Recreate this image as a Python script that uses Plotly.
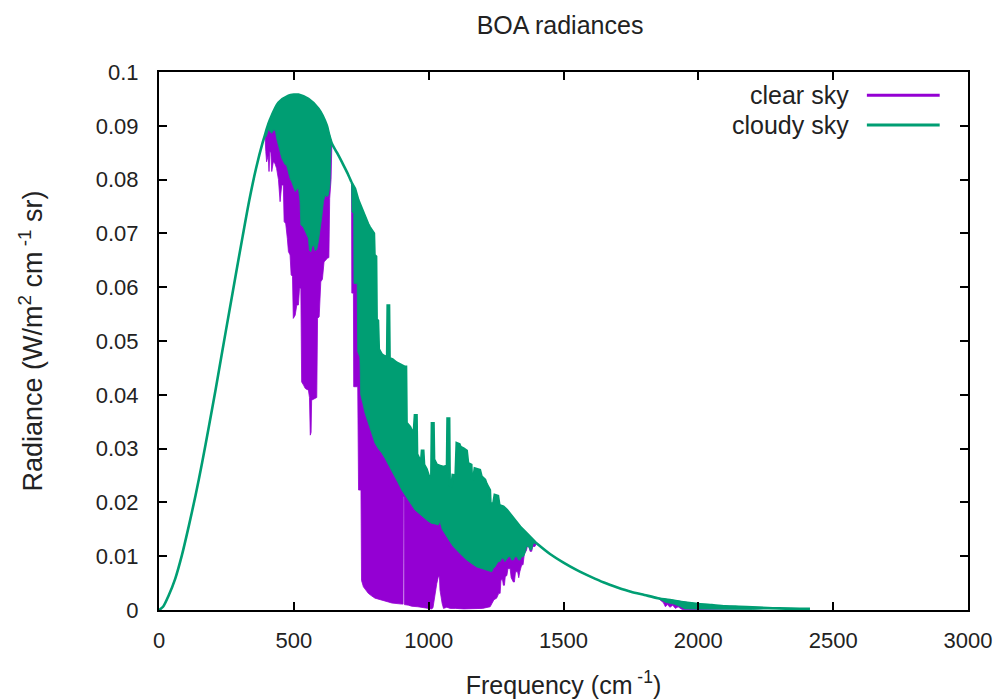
import plotly.graph_objects as go

# ---------------- data ----------------
# Cloudy-sky outer (upper) radiance curve, freq in cm^-1, radiance W/(m2 cm-1 sr)
cloudy_freq = [0, 15, 35, 60, 85, 110, 135, 160, 185, 210, 235, 260, 285, 310, 335, 360, 385,
               393, 400, 412, 443, 480, 500, 517, 554, 591, 622, 630, 641, 660, 680, 700,
               714, 727, 739, 752, 763, 769, 775, 781, 789, 797, 799, 805, 807, 812, 815,
               826, 835, 846, 848, 853, 855, 866, 880, 897, 912, 916, 918, 931, 936, 945,
               949, 955, 957, 966, 973, 975, 980, 983, 992, 1003, 1010, 1012, 1018, 1020,
               1030, 1040, 1055, 1068, 1070, 1076, 1078, 1085, 1089, 1100, 1104, 1114, 1118,
               1130, 1141, 1146, 1158, 1160, 1166, 1171, 1190, 1196, 1209, 1214, 1227, 1229,
               1240, 1245, 1257, 1262, 1277, 1290, 1314, 1339, 1363, 1388, 1400,
               1450, 1500, 1550, 1600, 1650, 1700, 1750, 1800, 1850, 1900, 1950, 2000, 2050,
               2100, 2150, 2200, 2300, 2414]
cloudy_rad = [0.0, 0.0006, 0.0026, 0.0058, 0.0102, 0.0155, 0.0212, 0.0274, 0.0341, 0.0410,
              0.0482, 0.0553, 0.0624, 0.0694, 0.0762, 0.0821, 0.0870,
              0.0883, 0.0895, 0.0912, 0.0943, 0.0956, 0.0958, 0.0958, 0.0950, 0.0932, 0.0901,
              0.0885, 0.0867, 0.0850, 0.0831, 0.0811,
              0.0795, 0.0783, 0.0762, 0.0745, 0.0732, 0.0722, 0.0718, 0.0712, 0.0705, 0.0700,
              0.0660, 0.0657, 0.0540, 0.0538, 0.0485,
              0.0475, 0.0472, 0.0470, 0.0566, 0.0566, 0.0468, 0.0466, 0.0460, 0.0455, 0.0452,
              0.0452, 0.0348, 0.0340, 0.0335, 0.0330,
              0.0362, 0.0362, 0.0290, 0.0280, 0.0282, 0.0296, 0.0296, 0.0270, 0.0262, 0.0245,
              0.0250, 0.0347, 0.0347, 0.0280,
              0.0270, 0.0268, 0.0266, 0.0268, 0.0356, 0.0356, 0.0232, 0.0230, 0.0251, 0.0250,
              0.0310, 0.0308, 0.0303,
              0.0300, 0.0296, 0.0273, 0.0270, 0.0245, 0.0244, 0.0263, 0.0260, 0.0248, 0.0242,
              0.0235, 0.0223, 0.0198,
              0.0198, 0.0214, 0.0212, 0.0195, 0.0192, 0.0186, 0.0170, 0.0155, 0.0143, 0.0130,
              0.0124,
              0.0104, 0.0088, 0.0074, 0.0062, 0.0051, 0.0042, 0.0034, 0.0028, 0.0022, 0.0018,
              0.0014, 0.0011, 0.0009,
              0.0007, 0.0006, 0.0005, 0.0003, 0.0002]

# Band A (about 393-641 cm^-1): lower envelopes
cloudy_low_a_freq = [393, 398, 405, 412, 418, 426, 432, 436, 443, 449, 455, 461, 467, 473, 480,
                     486, 492, 498, 505, 511, 517, 523, 526, 535, 542, 548, 554, 558, 563, 568,
                     574, 579, 585, 591, 597, 603, 610, 616, 622, 628, 634, 638, 641]
cloudy_low_a_rad = [0.0883, 0.0880, 0.0893, 0.0889, 0.0886, 0.0893, 0.0890, 0.0877, 0.0862,
                    0.0852, 0.0840, 0.0833, 0.0828, 0.0827, 0.0812, 0.0802, 0.0796, 0.0790,
                    0.0778, 0.0782, 0.0784, 0.0760, 0.0716, 0.0712, 0.0703, 0.0698, 0.0691,
                    0.0668, 0.0666, 0.0676, 0.0678, 0.0668, 0.0670, 0.0685, 0.0700, 0.0728,
                    0.0760, 0.0771, 0.0768, 0.0771, 0.0790, 0.0864, 0.0867]
clear_low_a_freq = [393, 396, 399, 405, 408, 411, 415, 418, 424, 430, 436, 443, 449, 455, 461,
                    464, 470, 476, 480, 486, 490, 495, 498, 505, 511, 517, 521, 526, 529, 536,
                    542, 548, 554, 558, 561, 564, 566, 572, 579, 585, 588, 594, 600, 606, 612,
                    618, 624, 630, 633, 638, 641]
clear_low_a_rad = [0.0883, 0.0852, 0.0833, 0.0845, 0.0815, 0.0852, 0.0850, 0.0815, 0.0833,
                   0.0830, 0.0821, 0.0800, 0.0759, 0.0790, 0.0790, 0.0722, 0.0718, 0.0690,
                   0.0666, 0.0660, 0.0623, 0.0620, 0.0542, 0.0548, 0.0567, 0.0567, 0.0598,
                   0.0598, 0.0424, 0.0418, 0.0412, 0.0410, 0.0409, 0.0395, 0.0325, 0.0330,
                   0.0390, 0.0392, 0.0393, 0.0395, 0.0542, 0.0545, 0.0610, 0.0615, 0.0647,
                   0.0650, 0.0654, 0.0655, 0.0765, 0.0800, 0.0867]

# Band B (about 714-1400 cm^-1): lower envelopes
cloudy_low_b_freq = [714, 716, 722, 723, 735, 737, 745, 748, 756, 764, 776, 789, 801, 813, 826,
                     838, 850, 862, 875, 887, 900, 912, 924, 937, 949, 962, 974, 986, 998, 1011,
                     1023, 1036, 1042, 1050, 1061, 1067, 1079, 1091, 1104, 1116, 1128, 1141,
                     1153, 1166, 1178, 1190, 1203, 1215, 1228, 1234, 1240, 1246, 1253, 1259,
                     1265, 1271, 1277, 1283, 1289, 1296, 1302, 1308, 1314, 1320, 1327, 1333,
                     1339, 1345, 1351, 1357, 1363, 1370, 1376, 1382, 1388, 1394, 1400]
cloudy_low_b_rad = [0.0795, 0.0740, 0.0737, 0.0607, 0.0607, 0.0480, 0.0470, 0.0400, 0.0384,
                    0.0366, 0.0347, 0.0329, 0.0310, 0.0300, 0.0292, 0.0282, 0.0273, 0.0260,
                    0.0248, 0.0236, 0.0223, 0.0214, 0.0205, 0.0195, 0.0186, 0.0180, 0.0174,
                    0.0170, 0.0165, 0.0161, 0.0160, 0.0158, 0.0165, 0.0150, 0.0142, 0.0137,
                    0.0127, 0.0118, 0.0111, 0.0105, 0.0099, 0.0093, 0.0088, 0.0084, 0.0080,
                    0.0077, 0.0075, 0.0074, 0.0072, 0.0071, 0.0078, 0.0080, 0.0086, 0.0090,
                    0.0090, 0.0096, 0.0096, 0.0090, 0.0093, 0.0099, 0.0099, 0.0093, 0.0093,
                    0.0099, 0.0099, 0.0093, 0.0093, 0.0099, 0.0099, 0.0105, 0.0118, 0.0118,
                    0.0112, 0.0112, 0.0124, 0.0124, 0.0124]
clear_low_b_freq = [714, 715, 721, 722, 737, 740, 749, 751, 758, 767, 776, 789, 801, 813, 826,
                    838, 850, 863, 880, 900, 905, 906, 909, 910, 925, 937, 960, 986, 1000, 1011,
                    1016, 1020, 1025, 1030, 1036, 1040, 1042, 1047, 1050, 1055, 1067, 1080,
                    1100, 1130, 1170, 1200, 1228, 1236, 1242, 1252, 1260, 1265, 1268, 1274,
                    1277, 1281, 1284, 1290, 1294, 1302, 1306, 1314, 1318, 1322, 1330, 1334,
                    1338, 1345, 1350, 1355, 1362, 1366, 1372, 1376, 1382, 1386, 1394, 1400]
clear_low_b_rad = [0.0795, 0.0589, 0.0589, 0.0415, 0.0415, 0.0223, 0.0223, 0.0055, 0.0043,
                   0.0037, 0.0031, 0.0026, 0.0022, 0.0020, 0.0018, 0.0017, 0.0015, 0.0013,
                   0.0012, 0.0011, 0.0011, 0.0212, 0.0210, 0.0010, 0.0009, 0.0007, 0.0006,
                   0.0005, 0.0003, 0.0002, 0.0004, 0.0012, 0.0030, 0.0049, 0.0062, 0.0062,
                   0.0037, 0.0020, 0.0012, 0.0003, 0.0005, 0.0003, 0.0003, 0.0002, 0.0002,
                   0.0003, 0.0006, 0.0012, 0.0019, 0.0022, 0.0031, 0.0031, 0.0056, 0.0056,
                   0.0046, 0.0046, 0.0062, 0.0064, 0.0077, 0.0077, 0.0060, 0.0052, 0.0052,
                   0.0071, 0.0071, 0.0060, 0.0071, 0.0084, 0.0084, 0.0105, 0.0110, 0.0118,
                   0.0118, 0.0109, 0.0109, 0.0118, 0.0118, 0.0124]

# Band C (about 1850-2300 cm^-1): lower envelopes
cloudy_low_c_freq = [1850, 1880, 1910, 1935, 1950, 2000, 2200, 2300]
cloudy_low_c_rad = [0.0022, 0.0014, 0.0011, 0.0006, 0.0002, 0.0001, 0.0001, 0.0003]
clear_low_c_freq = [1850, 1870, 1878, 1885, 1895, 1905, 1915, 1925, 1940, 2000, 2300]
clear_low_c_rad = [0.0022, 0.0014, 0.0006, 0.0010, 0.0005, 0.0009, 0.0003, 0.0006, 0.0001,
                   0.0001, 0.0003]

x_ticks = [0, 500, 1000, 1500, 2000, 2500, 3000]
y_ticks = [0, 0.01, 0.02, 0.03, 0.04, 0.05, 0.06, 0.07, 0.08, 0.09, 0.1]

PURPLE = "#9400D3"
GREEN = "#009E73"
FONT = "Liberation Sans, Arial, sans-serif"
TXT = "#222222"


def band_polygon(low_f, low_r):
    f0, f1 = low_f[0], low_f[-1]
    up = [(f, r) for f, r in zip(cloudy_freq, cloudy_rad) if f0 <= f <= f1]
    xs = [p[0] for p in up] + list(reversed(low_f))
    ys = [p[1] for p in up] + list(reversed(low_r))
    return xs, ys


def polys(bands):
    X, Y = [], []
    for lf, lr in bands:
        xs, ys = band_polygon(lf, lr)
        X += xs + [None]
        Y += ys + [None]
    return X, Y


def segment(lo, hi):
    pts = [(f, r) for f, r in zip(cloudy_freq, cloudy_rad) if lo <= f <= hi]
    return [p[0] for p in pts], [p[1] for p in pts]


fig = go.Figure()

cx, cy = polys([(clear_low_a_freq, clear_low_a_rad), (clear_low_b_freq, clear_low_b_rad),
                (clear_low_c_freq, clear_low_c_rad)])
fig.add_trace(go.Scatter(x=cx, y=cy, mode="lines", fill="toself", fillcolor=PURPLE,
                         line=dict(color=PURPLE, width=0.8), name="clear sky",
                         showlegend=False, hoverinfo="skip"))

gx, gy = polys([(cloudy_low_a_freq, cloudy_low_a_rad), (cloudy_low_b_freq, cloudy_low_b_rad),
                (cloudy_low_c_freq, cloudy_low_c_rad)])
fig.add_trace(go.Scatter(x=gx, y=gy, mode="lines", fill="toself", fillcolor=GREEN,
                         line=dict(color=GREEN, width=0.8), name="cloudy sky",
                         showlegend=False, hoverinfo="skip"))

# cloudy-sky curve: smooth parts drawn as spline, spiky window part as straight segments
for lo, hi, shape in [(0, 714, "spline"), (714, 1400, "linear"), (1400, 3000, "spline")]:
    sx, sy = segment(lo, hi)
    fig.add_trace(go.Scatter(x=sx, y=sy, mode="lines",
                             line=dict(color=GREEN, width=2.6, shape=shape, smoothing=0.8),
                             name="cloudy sky", showlegend=False))

# gnuplot-style key (text right, sample line on the right)
for i, (label, col) in enumerate([("clear sky", PURPLE), ("cloudy sky", GREEN)]):
    yk = 0.957 - i * 0.0555
    fig.add_annotation(x=0.855, y=yk, xref="paper", yref="paper", text=label,
                       showarrow=False, xanchor="right", yanchor="middle",
                       font=dict(family=FONT, size=25, color=TXT))
    fig.add_shape(type="line", xref="paper", yref="paper", x0=0.875, x1=0.965,
                  y0=yk, y1=yk, line=dict(color=col, width=3))

axis_common = dict(showline=True, linecolor="black", linewidth=2, mirror="ticks",
                   ticks="inside", ticklen=8, tickwidth=2, tickcolor="black",
                   showgrid=False, zeroline=False, automargin=False,
                   tickfont=dict(family=FONT, size=22, color=TXT))

fig.update_layout(
    width=1007, height=699,
    margin=dict(l=159, r=39, t=72, b=89),
    paper_bgcolor="white", plot_bgcolor="white",
    title=dict(text="BOA radiances", x=0.4957, xref="paper", y=0.964, yref="container",
               xanchor="center", yanchor="middle",
               font=dict(family=FONT, size=25, color=TXT)),
    xaxis=dict(range=[0, 3000], tickvals=x_ticks, ticktext=[str(v) for v in x_ticks],
               title=dict(text="Frequency (cm<sup> -1</sup>)", standoff=24,
                          font=dict(family=FONT, size=25, color=TXT)),
               ticklabelstandoff=10, **axis_common),
    yaxis=dict(range=[0, 0.1], tickvals=y_ticks, ticktext=[f"{v:g}" for v in y_ticks],
               title=dict(text="Radiance (W/m<sup>2</sup> cm<sup> -1</sup> sr)", standoff=45,
                          font=dict(family=FONT, size=27, color=TXT)),
               ticklabelstandoff=14, **axis_common),
    showlegend=False,
)

fig.write_html("out.html")
